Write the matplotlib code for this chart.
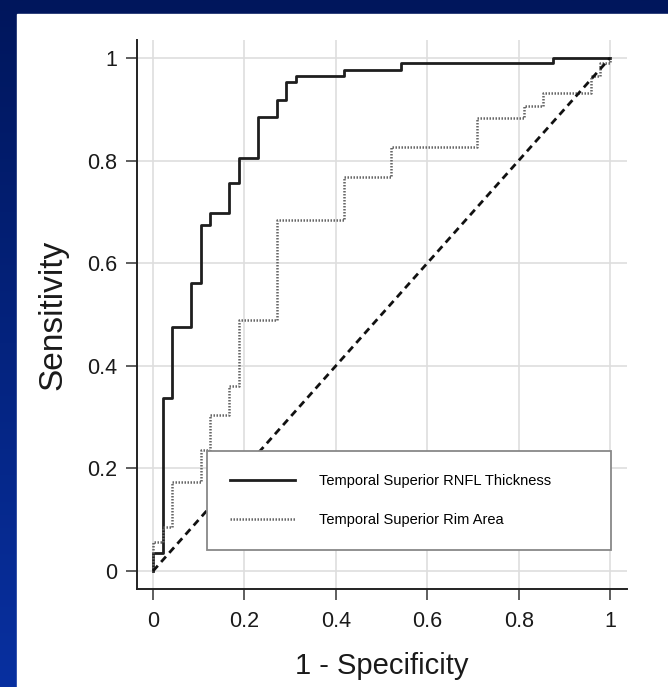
import numpy as np
import matplotlib
matplotlib.use("Agg")
import matplotlib.pyplot as plt
from matplotlib.patches import Rectangle

plt.rcParams['font.family'] = ['Liberation Sans', 'DejaVu Sans']

# ROC corner points (rise at previous x, then run right to this x)
rnfl_fpr = [0, 0.021, 0.042, 0.083, 0.104, 0.125, 0.167, 0.1875, 0.229, 0.271,
            0.292, 0.3125, 0.417, 0.542, 0.875, 1.0]
rnfl_tpr = [0, 0.035, 0.337, 0.476, 0.561, 0.674, 0.698, 0.756, 0.805, 0.885,
            0.918, 0.953, 0.965, 0.977, 0.99, 1.0]

rim_fpr = [0, 0.021, 0.042, 0.104, 0.125, 0.167, 0.1875, 0.271, 0.417, 0.521,
           0.708, 0.8125, 0.854, 0.958, 0.979, 1.0, 1.0]
rim_tpr = [0, 0.057, 0.086, 0.173, 0.236, 0.304, 0.36, 0.489, 0.684, 0.768,
           0.826, 0.883, 0.906, 0.931, 0.965, 0.99, 1.0]

ref_line = [0, 1]
ticks = [0, 0.2, 0.4, 0.6, 0.8, 1]
tick_labels = ['0', '0.2', '0.4', '0.6', '0.8', '1']
labels = ['Temporal Superior RNFL Thickness', 'Temporal Superior Rim Area']

fig = plt.figure(figsize=(6.68, 6.87), dpi=100)

# blue slide background with white panel
bg = fig.add_axes([0, 0, 1, 1], zorder=-10)
grad = np.linspace(0, 1, 256).reshape(-1, 1)
top = np.array([0, 22, 92]) / 255
bot = np.array([8, 48, 160]) / 255
img = top + (bot - top) * grad[:, :, None]
bg.imshow(img, aspect='auto', extent=[0, 1, 0, 1])
bg.add_patch(Rectangle((17 / 668, 0), 1, 1 - 14 / 687, color='white'))
bg.set_xlim(0, 1)
bg.set_ylim(0, 1)
bg.axis('off')

ax = fig.add_axes([0.2051, 0.1426, 0.7335, 0.7992])
ax.set_xlim(-0.035, 1.037)
ax.set_ylim(-0.035, 1.035)

ax.step(rnfl_fpr, rnfl_tpr, where='pre', color='#1e1e1e', lw=2.0,
        label=labels[0])
ax.step(rim_fpr, rim_tpr, where='pre', color='#666666', lw=1.8,
        linestyle=(0, (0.6, 0.6)), label=labels[1])
ax.plot(ref_line, ref_line, color='#111111', lw=2.0, linestyle=(0, (2.6, 1.8)))

ax.set_xticks(ticks)
ax.set_xticklabels(tick_labels)
ax.set_yticks(ticks)
ax.set_yticklabels(tick_labels)
ax.tick_params(labelsize=15.5, length=8, width=1.1, color='#333333',
               labelcolor='#1a1a1a')
ax.tick_params(axis='x', pad=8)
ax.tick_params(axis='y', pad=6)
ax.grid(True, color='#dedede', lw=1.2)
ax.set_axisbelow(True)

for s in ['top', 'right']:
    ax.spines[s].set_visible(False)
for s in ['left', 'bottom']:
    ax.spines[s].set_linewidth(1.4)
    ax.spines[s].set_color('#222222')

ax.set_xlabel('1 - Specificity', fontsize=21, color='#1a1a1a', labelpad=14)
ax.set_ylabel('Sensitivity', fontsize=24, color='#1a1a1a', labelpad=14)

leg = ax.legend(loc='lower left', bbox_to_anchor=(0.1429, 0.071, 0.824, 0.1785),
                mode='expand', fontsize=10.5, handlelength=4.4,
                handletextpad=1.7, borderpad=1.6, labelspacing=1.7,
                borderaxespad=0, fancybox=False, framealpha=1,
                edgecolor='#888888', facecolor='white')
leg.get_frame().set_linewidth(1.3)

fig.savefig('out.png', dpi=100)
